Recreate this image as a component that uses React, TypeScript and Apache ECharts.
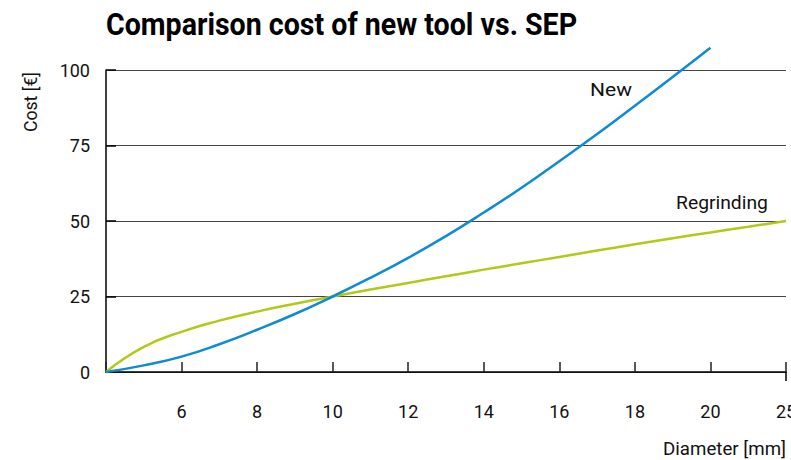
import React, { useEffect, useRef } from "react";
import * as echarts from "echarts";

const titleText = "Comparison cost of new tool vs. SEP";
const xAxisName = "Diameter [mm]";
const yAxisName = "Cost [€]";

// x in mm (axis value 22 is labelled "25" in the original)
const newX = [4, 5, 6, 7, 8, 9, 10, 11, 12, 13, 14, 15, 16, 17, 18, 19, 20];
const newY = [0, 2.2, 5.1, 9.2, 14.0, 19.2, 25, 31.2, 37.8, 45.0, 52.8, 61.0, 69.8, 78.8, 88.2, 97.7, 107.4];

const regX = [4, 5, 6, 7, 8, 9, 10, 11, 12, 13, 14, 15, 16, 17, 18, 19, 20, 21, 22];
const regY = [0, 8.3, 13.3, 17.0, 20.0, 22.6, 25, 27.3, 29.5, 31.7, 33.9, 36.0, 38.1, 40.2, 42.3, 44.3, 46.2, 48.1, 50];

const xTicks = [4, 6, 8, 10, 12, 14, 16, 18, 20, 22];
const xTickLabels = ["", "6", "8", "10", "12", "14", "16", "18", "20", "25"];
const yTicks = [0, 25, 50, 75, 100];

const FONT = "Roboto, 'Noto Sans', sans-serif";
const BLUE = "#0f8bd0";
const GREEN = "#b2c917";

function measure(text: string, font: string): number {
  const t = new echarts.graphic.Text({ style: { text, font } });
  return t.getBoundingRect().width;
}

export default function App() {
  const ref = useRef<HTMLDivElement>(null);
  useEffect(() => {
    if (!ref.current) return;
    const chart = echarts.init(ref.current, undefined, { renderer: "svg" });
    const option: any = {
      animation: false,
      backgroundColor: "#ffffff",
      textStyle: { fontFamily: FONT },
      grid: { left: 106, right: 5, top: 70, bottom: 88, outerBoundsMode: "none", containLabel: false },
      xAxis: {
        type: "value",
        min: xTicks[0],
        max: xTicks[xTicks.length - 1],
        interval: 2,
        axisLine: { show: true, lineStyle: { color: "#000", width: 1.5 } },
        axisTick: { show: true, inside: true, length: 10, lineStyle: { color: "#222", width: 1.5 } },
        axisLabel: {
          margin: 30,
          fontSize: 18,
          color: "#111",
          fontFamily: FONT,
          hideOverlap: false,
          formatter: (v: number) => {
            const i = xTicks.indexOf(v);
            return i >= 0 ? xTickLabels[i] : "";
          },
        },
        splitLine: { show: false },
      },
      yAxis: {
        type: "value",
        min: yTicks[0],
        max: yTicks[yTicks.length - 1],
        interval: 25,
        axisLine: { show: true, lineStyle: { color: "#000", width: 1.5 } },
        axisTick: { show: true, inside: true, length: 10, lineStyle: { color: "#000", width: 1.5 } },
        axisLabel: { margin: 16, fontSize: 18, color: "#111", fontFamily: FONT },
        splitLine: { show: true, lineStyle: { color: "#444", width: 1.2 } },
      },
      series: [
        {
          name: "New",
          type: "line",
          smooth: true,
          clip: false,
          showSymbol: false,
          symbol: "none",
          lineStyle: { color: BLUE, width: 2.5 },
          data: newX.map((x, i) => [x, newY[i]]),
          z: 3,
        },
        {
          name: "Regrinding",
          type: "line",
          smooth: true,
          clip: false,
          showSymbol: false,
          symbol: "none",
          lineStyle: { color: GREEN, width: 2.5 },
          data: regX.map((x, i) => [x, regY[i]]),
          z: 2,
        },
      ],
    };
    chart.setOption(option);

    const end = chart.convertToPixel({ gridIndex: 0 }, [xTicks[xTicks.length - 1], 0]) as number[];

    const titleFont = `bold 32px ${FONT}`;
    const labelFont = `18px ${FONT}`;
    const fit = (text: string, font: string, target: number) => target / measure(text, font);

    chart.setOption({
      graphic: [
        {
          type: "text",
          x: 106,
          y: 24,
          scaleX: fit(titleText, titleFont, 471),
          style: { text: titleText, font: titleFont, fill: "#000", textAlign: "left", textVerticalAlign: "middle" },
        },
        {
          type: "text",
          x: 30,
          y: 102,
          rotation: Math.PI / 2,
          scaleX: fit(yAxisName, labelFont, 60),
          style: { text: yAxisName, font: labelFont, fill: "#111", textAlign: "center", textVerticalAlign: "middle" },
        },
        {
          type: "line",
          shape: { x1: end[0], y1: end[1], x2: end[0], y2: end[1] + 9 },
          style: { stroke: "#000", lineWidth: 1.5 },
        },
        {
          type: "text",
          x: 786,
          y: 449,
          scaleX: fit(xAxisName, labelFont, 123),
          style: { text: xAxisName, font: labelFont, fill: "#111", textAlign: "right", textVerticalAlign: "middle" },
        },
        {
          type: "text",
          x: 590,
          y: 90,
          scaleX: fit("New", labelFont, 42),
          style: { text: "New", font: labelFont, fill: "#111", textAlign: "left", textVerticalAlign: "middle" },
        },
        {
          type: "text",
          x: 676,
          y: 203,
          scaleX: fit("Regrinding", labelFont, 92),
          style: { text: "Regrinding", font: labelFont, fill: "#111", textAlign: "left", textVerticalAlign: "middle" },
        },
      ],
    });
    return () => chart.dispose();
  }, []);
  return (
    <div
      ref={ref}
      style={{ position: "fixed", left: 0, top: 0, width: 791, height: 460 }}
    />
  );
}
